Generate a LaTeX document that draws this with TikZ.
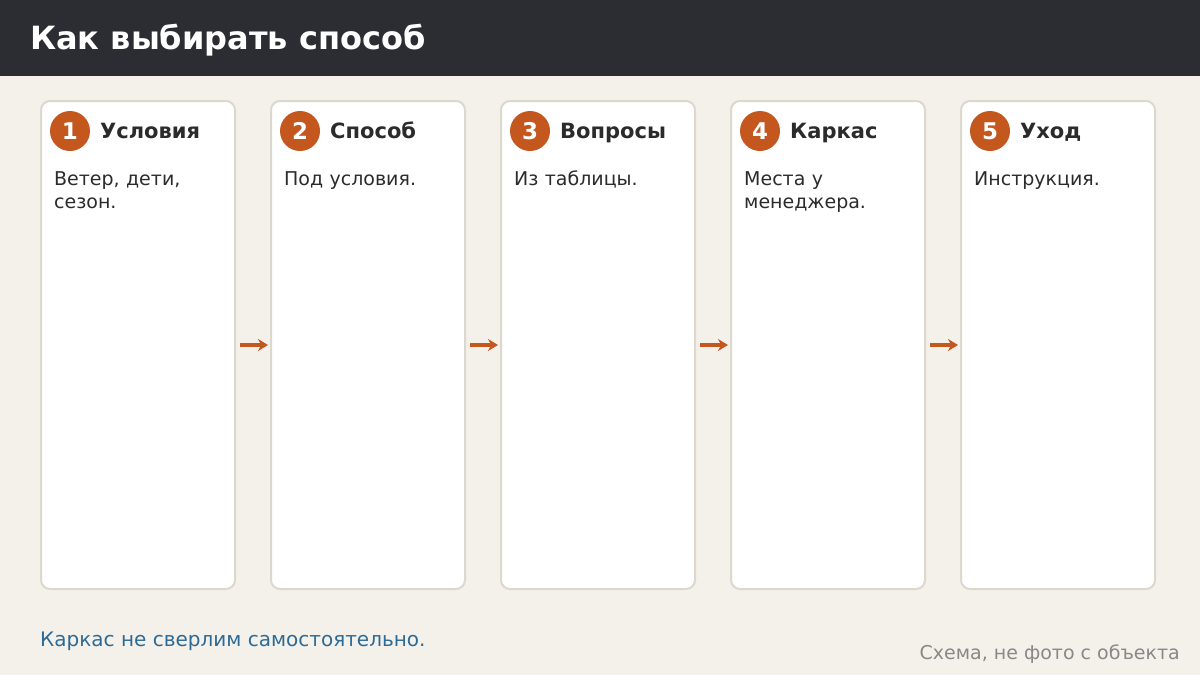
\documentclass[tikz,border=0pt]{standalone}
\usepackage{fontspec}
\setmainfont{DejaVu Sans}
\usetikzlibrary{arrows.meta}
\definecolor{bg}{HTML}{F4F1EA}
\definecolor{hdr}{HTML}{2B2D32}
\definecolor{cardb}{HTML}{DDD8CE}
\definecolor{accent}{HTML}{C4571E}
\definecolor{ink}{HTML}{2B2B2B}
\definecolor{note}{HTML}{2E6A96}
\definecolor{muted}{HTML}{888888}
\tikzset{
  card/.style={draw=cardb, line width=2pt, fill=white, rounded corners=9pt, minimum width=194pt, minimum height=488pt, inner sep=0pt},
  badge/.style={circle, fill=accent, minimum size=40pt, inner sep=0pt, text=white, font=\fontsize{23}{26}\selectfont\bfseries},
  ctitle/.style={anchor=base west, text=ink, font=\fontsize{21}{24}\selectfont\bfseries, inner sep=0pt},
  cbody/.style={anchor=north west, text=ink, font=\fontsize{19}{23}\selectfont, text width=178pt, align=left, inner sep=0pt},
  arr/.style={draw=accent, line width=3.2pt, -{Stealth[length=10pt,width=12pt]}}
}
\begin{document}
\begin{tikzpicture}[x=1pt,y=-1pt]
\fill[bg] (0,0) rectangle (1200,675);
\useasboundingbox (0,0) rectangle (1200,675);
\fill[hdr] (0,0) rectangle (1200,76);
\node[anchor=base west, text=white, font=\fontsize{32}{38}\selectfont\bfseries, inner sep=0pt] (title) at (30,49.5) {Как выбирать способ};

\foreach \i/\x/\t/\b in {1/41/Условия/{Ветер, дети,\\сезон.},
                        2/271/Способ/{Под условия.},
                        3/501/Вопросы/{Из таблицы.},
                        4/731/Каркас/{Места у\\менеджера.},
                        5/961/Уход/{Инструкция.}}{
  \node[card] (c\i) at (\x+97,345) {};
  \node[badge] (b\i) at (\x+29,131) {\i};
  \node[ctitle] (t\i) at (\x+59,138) {\t};
  \node[cbody] (d\i) at (\x+13,171) {\b};
}
\foreach \a/\b in {1/2,2/3,3/4,4/5}{
  \draw[arr] ([xshift=4pt]c\a.east) -- ([xshift=-2pt]c\b.west);
}
\node[anchor=west, text=note, font=\fontsize{20}{24}\selectfont, inner sep=0pt] (n1) at (40,641) {Каркас не сверлим самостоятельно.};
\node[anchor=east, text=muted, font=\fontsize{19}{22}\selectfont, inner sep=0pt] (n2) at (1180,654) {Схема, не фото с объекта};
\end{tikzpicture}
\end{document}
